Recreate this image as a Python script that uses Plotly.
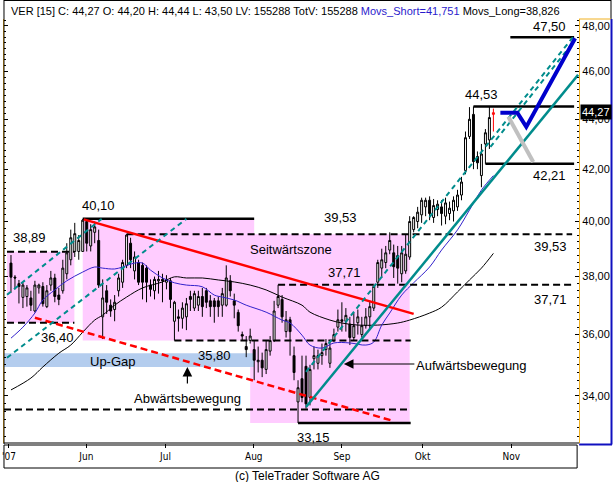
import numpy as np
import plotly.graph_objects as go

W, H = 613, 482

# ---------------- data (trading-day index, prices in EUR) ----------------
opens = [38.48, 37.98, 37.75, 37.27, 37.30, 37.25, 36.80, 37.60, 37.65, 36.95,
         37.70, 37.95, 37.35, 37.50, 38.10, 38.60, 38.90, 38.90, 38.90, 40.00,
         39.10, 39.60, 39.30, 36.60, 37.50, 37.00, 36.85, 37.50, 37.80, 38.40,
         39.20, 38.20, 38.50, 38.40, 38.30, 37.70, 37.50, 37.85, 37.90, 37.80,
         37.85, 36.45, 36.60, 36.55, 36.60, 37.30, 36.90, 37.00, 37.30, 37.50,
         37.15, 37.15, 37.15, 37.00, 37.00, 37.85, 37.15, 36.75, 36.00, 35.60,
         35.80, 35.50, 35.10, 35.15, 34.85, 35.45, 35.80, 37.00, 37.20, 36.10,
         36.50, 35.30, 33.81, 34.55, 34.95, 33.95, 35.20, 35.05, 35.30, 35.50,
         35.05, 35.80, 36.25, 36.50, 36.45, 36.35, 35.90, 36.40, 36.00, 36.30,
         36.60, 36.90, 37.80, 38.30, 38.50, 38.95, 38.85, 38.75, 38.10, 38.20,
         38.70, 39.70, 40.00, 40.25, 40.55, 40.80, 40.15, 40.45, 40.55, 40.20,
         40.30, 40.40, 40.55, 41.00, 41.95, 43.30, 44.20, 42.50, 41.75, 43.00,
         43.16, 44.20]
highs = [38.77, 38.05, 37.88, 37.78, 37.70, 37.50, 37.85, 37.75, 37.80, 37.70,
         38.20, 38.10, 37.60, 38.60, 39.20, 39.70, 39.95, 39.50, 40.10, 40.10,
         39.90, 40.00, 39.70, 37.90, 37.70, 37.20, 37.35, 38.10, 38.60, 39.53,
         39.40, 38.90, 38.60, 38.50, 38.40, 37.90, 38.00, 38.20, 38.10, 38.05,
         37.95, 37.15, 36.85, 37.10, 37.25, 37.50, 37.50, 37.50, 37.60, 37.60,
         37.35, 37.25, 37.30, 37.60, 38.40, 38.05, 37.40, 36.85, 36.10, 35.95,
         36.20, 35.80, 35.60, 35.40, 35.80, 35.95, 37.15, 37.71, 37.35, 36.80,
         36.60, 35.60, 34.50, 35.30, 35.30, 35.00, 35.60, 35.50, 35.70, 35.85,
         35.75, 36.20, 36.85, 37.10, 36.90, 36.60, 36.75, 36.85, 36.60, 36.90,
         37.15, 37.75, 38.60, 39.00, 39.10, 39.60, 39.15, 39.10, 39.10, 39.50,
         40.20, 40.20, 40.55, 40.90, 40.90, 40.95, 40.85, 40.80, 40.80, 40.90,
         40.75, 40.95, 41.20, 41.70, 43.50, 44.50, 44.53, 42.70, 43.00, 43.60,
         44.53, 44.44]
lows = [37.43, 37.55, 37.06, 36.90, 36.95, 36.80, 36.75, 37.40, 36.95, 36.90,
        37.50, 37.10, 37.00, 37.40, 37.90, 38.40, 38.70, 38.60, 38.90, 38.90,
        38.90, 39.20, 37.60, 35.85, 36.70, 36.60, 36.45, 37.30, 37.60, 38.30,
        38.30, 37.90, 37.70, 37.20, 37.10, 37.30, 37.20, 37.40, 37.10, 37.55,
        36.90, 35.80, 36.10, 36.20, 36.15, 36.80, 36.80, 36.80, 36.60, 36.90,
        36.60, 36.40, 36.60, 36.60, 36.95, 37.30, 36.55, 36.10, 35.80, 35.25,
        35.70, 34.50, 34.75, 34.60, 34.70, 35.30, 35.75, 36.90, 36.40, 35.90,
        35.30, 34.50, 33.15, 33.80, 33.60, 33.70, 34.85, 34.85, 35.00, 35.30,
        34.90, 35.75, 36.10, 36.10, 36.10, 35.65, 35.80, 36.00, 35.90, 36.20,
        36.15, 36.80, 37.60, 37.95, 38.30, 38.80, 37.95, 37.75, 37.80, 38.10,
        38.60, 39.60, 39.75, 39.95, 40.20, 40.05, 39.95, 40.20, 39.85, 39.90,
        40.05, 40.00, 40.40, 40.80, 41.80, 43.20, 42.00, 42.00, 41.30, 42.21,
        42.80, 43.50]
closes = [37.98, 37.95, 37.65, 37.70, 37.60, 37.00, 37.70, 37.70, 37.05, 37.50,
          37.95, 37.30, 37.20, 38.30, 38.85, 39.40, 39.55, 39.30, 40.05, 39.20,
          39.70, 39.80, 37.70, 37.25, 37.10, 36.80, 37.10, 37.95, 38.50, 39.50,
          38.60, 38.70, 37.80, 37.80, 37.80, 37.55, 37.90, 37.90, 37.85, 37.90,
          37.20, 37.10, 36.55, 36.90, 37.05, 37.20, 37.40, 37.30, 36.95, 37.10,
          36.95, 36.95, 36.95, 37.40, 37.95, 37.50, 37.00, 36.30, 35.95, 35.50,
          35.95, 35.15, 35.15, 34.90, 35.50, 35.80, 36.80, 37.30, 36.60, 36.50,
          36.10, 34.75, 34.26, 33.95, 33.75, 34.85, 35.30, 35.30, 35.40, 35.70,
          35.55, 36.00, 36.50, 36.45, 36.65, 35.90, 36.30, 36.60, 36.30, 36.60,
          36.95, 37.65, 38.50, 38.60, 38.85, 39.30, 38.35, 38.30, 38.85, 38.80,
          40.00, 40.15, 40.35, 40.80, 40.80, 40.30, 40.60, 40.65, 40.30, 40.70,
          40.50, 40.80, 41.00, 41.50, 43.25, 44.00, 42.30, 42.25, 42.60, 43.45,
          44.07, 44.27]
days = list(range(len(closes)))

# moving averages (index, value)
movs_short_x = [0, 3, 6, 8, 11, 14, 18, 21, 23, 26, 28, 31, 33, 35, 38, 41, 44, 48, 51, 53, 56,
                59, 64, 68, 70, 73, 75, 78, 81, 85, 89, 91, 93, 95, 98, 101, 105, 108, 112,
                115, 118, 121]
movs_short_y = [35.88, 36.25, 36.73, 37.18, 37.53, 37.85, 38.16, 38.34, 38.30, 38.27, 38.34,
                38.48, 38.48, 38.23, 37.95, 37.78, 37.70, 37.64, 37.35, 37.28, 37.18, 37.00,
                36.76, 36.49, 36.39, 35.98, 35.65, 35.55, 35.72, 35.72, 35.65, 35.75, 36.32,
                36.73, 37.35, 37.78, 38.34, 38.95, 39.69, 40.43, 41.19, 41.75]
movs_long_x = [0, 5, 8, 12, 15, 18, 21, 23, 26, 29, 33, 38, 41, 44, 48, 52, 56, 60, 64, 68, 73,
               75, 80, 83, 87, 92, 97, 100, 105, 108, 112, 115, 118, 121]
movs_long_y = [34.19, 34.57, 34.93, 35.38, 35.65, 36.08, 36.49, 36.66, 37.00, 37.28, 37.60,
               37.81, 37.99, 37.95, 37.95, 37.88, 37.81, 37.70, 37.53, 37.28, 37.00, 36.76,
               36.49, 36.39, 36.32, 36.32, 36.39, 36.49, 36.73, 36.93, 37.46, 37.88, 38.30,
               38.83]

# month ticks (index positions) and labels
month_pos = [-0.5, 18.9, 38.75, 60.9, 83.0, 103.25, 125.5]
month_lbl = ["'07", "Jun", "Jul", "Aug", "Sep", "Okt", "Nov"]
y_ticks = [34, 36, 38, 40, 42, 44, 46, 48]
y_ticktext = ["34,00", "36,00", "38,00", "40,00", "42,00", "44,00", "46,00", "48,00"]

# analysis levels / zones
zone_a = dict(x=[-1.0, 15.9], lo=36.40, hi=38.89)
zone_b = dict(x=[18.0, 61.0], lo=35.80, hi=40.10)
zone_c = dict(x=[60.0, 100.0], lo=33.15, hi=39.53)
upgap = dict(x=[-1.75, 61.0], lo=34.93, hi=35.38)
solid_levels = [  # (x0, x1, price)
    (18.0, 61.0, 40.10), (72.0, 100.25, 33.15), (116.0, 141.25, 44.53),
    (119.0, 141.25, 42.21), (125.25, 141.25, 47.50)]
dashed_levels = [
    (-1.0, 15.9, 38.89), (-1.0, 15.9, 36.40), (29.0, 140.75, 39.53),
    (67.0, 140.75, 37.71), (41.0, 100.25, 35.80), (-1.75, 100.25, 33.57)]
red_trend = ([18.25, 101.0], [40.08, 36.70])
red_dash_trend = ([6.0, 95.75], [36.57, 33.22])
teal_dash = [([-1.0, 22.75], [37.36, 40.10]), ([-1.0, 44.0], [35.23, 40.10]),
             ([74.0, 141.0], [34.77, 47.51]), ([120.25, 141.5], [42.88, 47.38])]
teal_solid = ([74.0, 142.25], [33.65, 45.86])
proj_blue = ([122.75, 127.0, 129.25, 141.5], [44.27, 44.27, 43.69, 47.45])
proj_gray = ([124.75, 131.0], [44.10, 42.28])

# ---------------- figure ----------------
def pxx(x):
    return x / W


def pxy(y):
    return 1 - y / H


PINK = "#FFCCFF"
TEAL = "#008C8C"
FONT = "Liberation Sans, Arial, sans-serif"

fig = go.Figure()

# candles
fig.add_trace(go.Candlestick(
    x=days[:-1], open=opens[:-1], high=highs[:-1], low=lows[:-1], close=closes[:-1],
    increasing=dict(line=dict(color="black", width=1), fillcolor="white"),
    decreasing=dict(line=dict(color="black", width=1), fillcolor="black"),
    whiskerwidth=0, hoverinfo="skip"))
fig.add_trace(go.Candlestick(
    x=days[-1:], open=opens[-1:], high=highs[-1:], low=lows[-1:], close=closes[-1:],
    increasing=dict(line=dict(color="red", width=1), fillcolor="white"),
    decreasing=dict(line=dict(color="red", width=1), fillcolor="red"),
    whiskerwidth=0, hoverinfo="skip"))

# moving averages
fig.add_trace(go.Scatter(x=movs_long_x, y=movs_long_y, mode="lines",
                         line=dict(color="black", width=1, shape="spline"), hoverinfo="skip"))
fig.add_trace(go.Scatter(x=movs_short_x, y=movs_short_y, mode="lines",
                         line=dict(color="#3322CC", width=1, shape="spline"), hoverinfo="skip"))

# levels
for x0, x1, p in dashed_levels:
    fig.add_trace(go.Scatter(x=[x0, x1], y=[p, p], mode="lines",
                             line=dict(color="black", width=2, dash="7px,4px"), hoverinfo="skip"))
for x0, x1, p in solid_levels:
    fig.add_trace(go.Scatter(x=[x0, x1], y=[p, p], mode="lines",
                             line=dict(color="black", width=2.5), hoverinfo="skip"))

# trend lines
fig.add_trace(go.Scatter(x=red_trend[0], y=red_trend[1], mode="lines",
                         line=dict(color="#FF0000", width=2.5), hoverinfo="skip"))
fig.add_trace(go.Scatter(x=red_dash_trend[0], y=red_dash_trend[1], mode="lines",
                         line=dict(color="#FF0000", width=2.5, dash="7px,4px"), hoverinfo="skip"))
for tx, ty in teal_dash:
    fig.add_trace(go.Scatter(x=tx, y=ty, mode="lines",
                             line=dict(color=TEAL, width=2, dash="5px,4px"), hoverinfo="skip"))
fig.add_trace(go.Scatter(x=teal_solid[0], y=teal_solid[1], mode="lines",
                         line=dict(color=TEAL, width=2.5), hoverinfo="skip"))
fig.add_trace(go.Scatter(x=proj_gray[0], y=proj_gray[1], mode="lines",
                         line=dict(color="#C0C0C0", width=4), hoverinfo="skip"))
fig.add_trace(go.Scatter(x=proj_blue[0], y=proj_blue[1], mode="lines",
                         line=dict(color="#0000CC", width=4), hoverinfo="skip"))

y_lo = 32.54
y_hi = 48.31
minor_vals = [round(v, 2) for v in np.arange(32.75, 48.3, 0.25)]

fig.update_layout(
    width=W, height=H, autosize=False,
    margin=dict(l=0, r=0, t=0, b=0),
    paper_bgcolor="white", plot_bgcolor="white",
    showlegend=False,
    font=dict(family=FONT, size=12, color="black"),
    xaxis=dict(domain=[pxx(2), pxx(579)], range=[-1.75, 142.5], showgrid=False, zeroline=False,
               tickmode="array", tickvals=month_pos, ticktext=month_lbl,
               ticks="outside", ticklen=4, tickcolor="black",
               tickfont=dict(family="Liberation Sans Narrow, DejaVu Sans Condensed, Arial Narrow, sans-serif",
                             size=10),
               rangeslider=dict(visible=False), showline=False, fixedrange=True),
    yaxis=dict(domain=[pxy(443), pxy(19)], type="log",
               range=[np.log10(y_lo), np.log10(y_hi)], side="right",
               tickmode="array", tickvals=y_ticks, ticktext=y_ticktext,
               ticks="inside", ticklen=4, tickcolor="black", tickfont=dict(size=11),
               minor=dict(tickmode="array", tickvals=minor_vals, ticks="inside", ticklen=2,
                          tickcolor="black"),
               showline=True, linecolor="#F0B020", linewidth=1, mirror="ticks",
               showgrid=False, zeroline=False, fixedrange=True),
)

shapes = []
# zones drawn beneath the candles (data coordinates)
for z, col in [(zone_a, PINK), (zone_b, PINK), (zone_c, PINK), (upgap, "#B4CDEE")]:
    shapes.append(dict(type="rect", xref="x", yref="y", x0=z["x"][0], x1=z["x"][1],
                       y0=z["lo"], y1=z["hi"], fillcolor=col, line=dict(width=0), layer="below"))

frame = [
    # frame of price panel
    dict(x0=pxx(2), x1=pxx(2), y0=pxy(0), y1=pxy(444), line=dict(color="black", width=1)),
    dict(x0=pxx(2), x1=pxx(611), y0=pxy(0.5), y1=pxy(0.5), line=dict(color="black", width=1)),
    dict(x0=pxx(2), x1=pxx(579), y0=pxy(443), y1=pxy(443), line=dict(color="black", width=1)),
    dict(x0=pxx(611), x1=pxx(611), y0=pxy(0), y1=pxy(19), line=dict(color="black", width=1)),
    # right axis panel
    dict(x0=pxx(579), x1=pxx(611), y0=pxy(19), y1=pxy(19), line=dict(color="#F0B020", width=1)),
    dict(x0=pxx(611.5), x1=pxx(611.5), y0=pxy(19), y1=pxy(444.5), line=dict(color="#1010C0", width=2)),
    dict(x0=pxx(579), x1=pxx(612), y0=pxy(444.5), y1=pxy(444.5), line=dict(color="#1010C0", width=2)),
    # x label box
    dict(x0=pxx(2), x1=pxx(577), y0=pxy(445), y1=pxy(468), line=dict(color="black", width=1)),
]
for s in frame:
    s.update(type="line" if s["x0"] == s["x1"] or s["y0"] == s["y1"] else "rect",
             xref="paper", yref="paper", layer="above")
shapes += frame
fig.update_layout(shapes=shapes)

annots = []


def label(text, x, y, size=13, xanchor="center", color="black", **kw):
    annots.append(dict(text=text, x=pxx(x), y=pxy(y), xref="paper", yref="paper",
                       xanchor=xanchor, yanchor="middle", showarrow=False,
                       font=dict(family=FONT, size=size, color=color), **kw))


label("VER [15] C: 44,27 O: 44,20 H: 44,44 L: 43,50 LV: 155288 TotV: 155288 "
      "<span style='color:#2A1ACC'>Movs_Short=41,751</span> Movs_Long=38,826",
      7, 10.5, size=11, xanchor="left")
label("40,10", 97, 205)
label("38,89", 28, 237)
label("36,40", 56, 337)
label("Seitwärtszone", 290, 249)
label("39,53", 340, 218)
label("37,71", 344, 272)
label("39,53", 550, 247)
label("37,71", 550, 299)
label("35,80", 213, 355)
label("Up-Gap", 111, 361)
label("Abwärtsbewegung", 186, 398)
label("Aufwärtsbewegung", 471, 365)
label("33,15", 313, 437)
label("44,53", 481, 95)
label("47,50", 549, 26)
label("42,21", 549, 175)
label("44,27", 596, 112, size=11, color="white", bgcolor="black", borderpad=1)
label("(c) TeleTrader Software AG", 306, 476, size=12)

annots.append(dict(text="", x=pxx(186), y=pxy(367), xref="paper", yref="paper",
                   showarrow=True, ax=0, ay=18, arrowhead=2, arrowsize=1.6, arrowwidth=1.2,
                   arrowcolor="black"))
annots.append(dict(text="", x=pxx(343), y=pxy(364), xref="paper", yref="paper",
                   showarrow=True, ax=72, ay=0, arrowhead=2, arrowsize=1.6, arrowwidth=1.2,
                   arrowcolor="black"))
fig.update_layout(annotations=annots)

fig.write_html("out.html", config={"displayModeBar": False, "staticPlot": True},
               post_script="document.body.style.margin='0';document.body.style.overflow='hidden';")
